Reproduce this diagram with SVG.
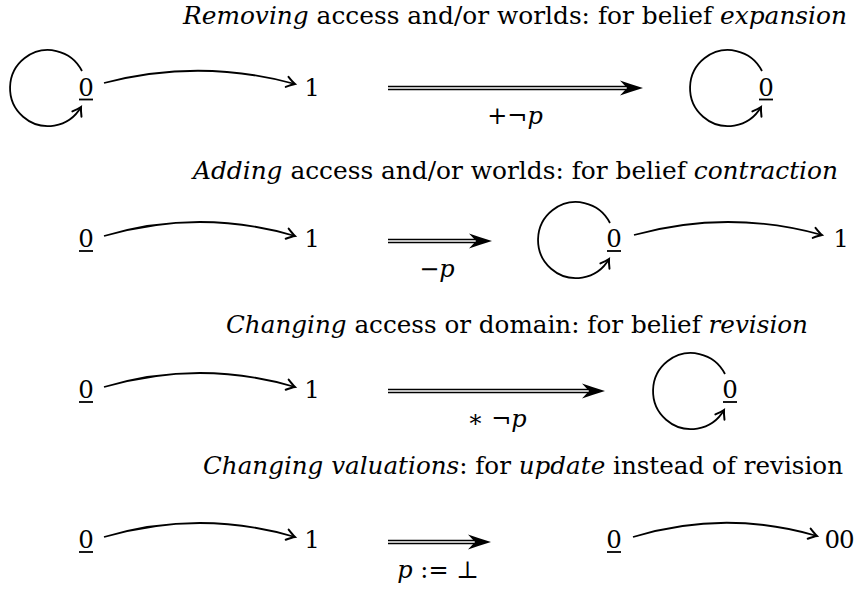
<svg xmlns="http://www.w3.org/2000/svg" width="854" height="590" viewBox="0 0 854 590">
<style>
text, tspan {font-family: "DejaVu Serif", "Liberation Serif", serif; fill:#000}
.t{font-size:23.5px}
.n{font-size:24.5px;text-anchor:middle}
.it{font-style:italic}
.lb{font-size:24px;text-anchor:middle}
.ul{stroke:#000;stroke-width:1.8}
.c{fill:none;stroke:#000;stroke-width:1.8;marker-end:url(#to)}
.dbl{stroke:#000;stroke-width:4.6}
.dblw{stroke:#fff;stroke-width:1.4}
</style>
<defs>
<marker id="to" markerUnits="userSpaceOnUse" markerWidth="14" markerHeight="14" refX="0" refY="0" viewBox="-8 -6 10 12" orient="auto">
<path d="M-7,-4.5 Q-2.5,-1.2 0,0 Q-2.5,1.2 -7,4.5" fill="none" stroke="#000" stroke-width="1.7" stroke-linecap="round"/>
</marker>
</defs>

<g id="titles">
<text class="t" x="183" y="24" textLength="664" lengthAdjust="spacingAndGlyphs"><tspan class="it">Removing</tspan> access and/or worlds: for belief <tspan class="it">expansion</tspan></text>
<text class="t" x="193" y="179" textLength="645" lengthAdjust="spacingAndGlyphs"><tspan class="it">Adding</tspan> access and/or worlds: for belief <tspan class="it">contraction</tspan></text>
<text class="t" x="226" y="333" textLength="582" lengthAdjust="spacingAndGlyphs"><tspan class="it">Changing</tspan> access or domain: for belief <tspan class="it">revision</tspan></text>
<text class="t" x="203" y="474" textLength="640" lengthAdjust="spacingAndGlyphs"><tspan class="it">Changing valuations</tspan>: for <tspan class="it">update</tspan> instead of revision</text>
</g>

<!-- Row 1 -->
<g id="r1-w0"><text class="n" x="86" y="96">0</text><line class="ul" x1="79" y1="99.5" x2="93" y2="99.5"/></g>
<g id="r1-w1"><text class="n" x="312" y="96">1</text></g>
<g id="r1-v0"><text class="n" x="766" y="96">0</text><line class="ul" x1="759" y1="99.5" x2="773" y2="99.5"/></g>
<text class="lb" x="515" y="124">+¬<tspan class="it">p</tspan></text>

<!-- Row 2 -->
<g id="r2-w0"><text class="n" x="86" y="247">0</text><line class="ul" x1="79" y1="251" x2="93" y2="251"/></g>
<g id="r2-w1"><text class="n" x="312" y="247">1</text></g>
<g id="r2-v0"><text class="n" x="614" y="247">0</text><line class="ul" x1="607" y1="251" x2="621" y2="251"/></g>
<g id="r2-v1"><text class="n" x="841" y="247">1</text></g>
<text class="lb" x="437" y="277">−<tspan class="it">p</tspan></text>

<!-- Row 3 -->
<g id="r3-w0"><text class="n" x="86" y="398">0</text><line class="ul" x1="79" y1="402" x2="93" y2="402"/></g>
<g id="r3-w1"><text class="n" x="312" y="398">1</text></g>
<g id="r3-v0"><text class="n" x="730" y="398">0</text><line class="ul" x1="723" y1="402" x2="737" y2="402"/></g>
<text class="lb" x="497" y="427">∗ ¬<tspan class="it">p</tspan></text>

<!-- Row 4 -->
<g id="r4-w0"><text class="n" x="86" y="548">0</text><line class="ul" x1="79" y1="552" x2="93" y2="552"/></g>
<g id="r4-w1"><text class="n" x="312" y="548">1</text></g>
<g id="r4-v0"><text class="n" x="614" y="548">0</text><line class="ul" x1="607" y1="552" x2="621" y2="552"/></g>
<g id="r4-v00"><text class="n" x="839" y="548" letter-spacing="-1">00</text></g>
<text class="lb" x="438" y="578"><tspan class="it">p</tspan> := ⊥</text>

<g id="connectors">
<path class="c" d="M82,71 A38,38 0 1 0 81,107"/>
<path class="c" d="M104,83 Q200,58 295,84"/>
<path class="c" d="M762,71 A38,38 0 1 0 761,107"/>
<path class="c" d="M104,236 Q200,208 295,236"/>
<path class="c" d="M610,223 A38,38 0 1 0 609,259"/>
<path class="c" d="M634,235 Q728,209 822,235"/>
<path class="c" d="M104,387 Q200,359 295,387"/>
<path class="c" d="M725,374 A38,38 0 1 0 724,410"/>
<path class="c" d="M104,537 Q200,509 295,537"/>
<path class="c" d="M633,537 Q725,509 817,536"/>
<g id="da1"><line class="dbl" x1="388" y1="88" x2="626" y2="88"/><line class="dblw" x1="388" y1="88" x2="627" y2="88"/><path d="M643,88 Q630,84 620,80.5 L627,88 L620,95.5 Q630,92 643,88 Z"/></g>
<g id="da2"><line class="dbl" x1="388" y1="241" x2="475" y2="241"/><line class="dblw" x1="388" y1="241" x2="476" y2="241"/><path d="M492,241 Q479,237 469,233.5 L476,241 L469,248.5 Q479,245 492,241 Z"/></g>
<g id="da3"><line class="dbl" x1="388" y1="391" x2="588" y2="391"/><line class="dblw" x1="388" y1="391" x2="589" y2="391"/><path d="M605,391 Q592,387 582,383.5 L589,391 L582,398.5 Q592,395 605,391 Z"/></g>
<g id="da4"><line class="dbl" x1="388" y1="542" x2="474" y2="542"/><line class="dblw" x1="388" y1="542" x2="475" y2="542"/><path d="M491,542 Q478,538 468,534.5 L475,542 L468,549.5 Q478,546 491,542 Z"/></g>
</g>
</svg>
